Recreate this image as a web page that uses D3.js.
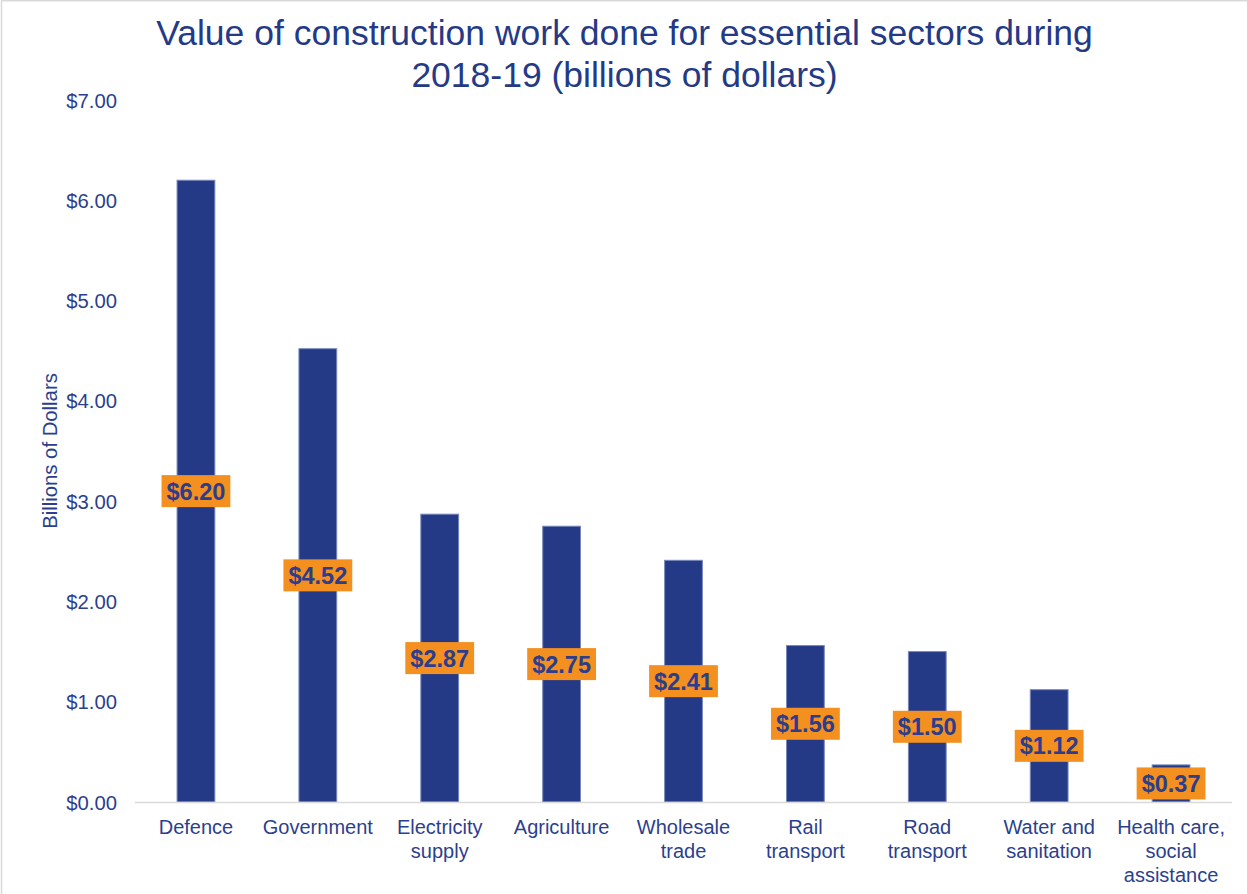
<!DOCTYPE html>
<html>
<head>
<meta charset="utf-8">
<script src="https://cdn.jsdelivr.net/npm/d3@7"></script>
<style>
  html, body { margin: 0; padding: 0; background: #fff; }
  svg { display: block; font-family: "Liberation Sans", Arial, sans-serif; }
</style>
</head>
<body>
<svg id="chart" width="1247" height="894"></svg>
<script>
// Sector names (line breaks mark how each axis label wraps)
const categories = [
  "Defence",
  "Government",
  "Electricity\nsupply",
  "Agriculture",
  "Wholesale\ntrade",
  "Rail\ntransport",
  "Road\ntransport",
  "Water and\nsanitation",
  "Health care,\nsocial\nassistance"
];
// Value of work done, billions of dollars
const values = [6.20, 4.52, 2.87, 2.75, 2.41, 1.56, 1.50, 1.12, 0.37];
const yTicks = [0, 1, 2, 3, 4, 5, 6, 7];
const titleLines = [
  "Value of construction work done for essential sectors during",
  "2018-19 (billions of dollars)"
];
const yAxisTitle = "Billions of Dollars";

const W = 1247, H = 894;
const margin = { top: 100, right: 15, bottom: 92, left: 135 };
const textColor = "#2C3F8E";
const barColor = "#253A87";
const labelBg = "#F3901F";

const svg = d3.select("#chart");

// Chart frame edge
svg.append("path")
  .attr("d", `M1.5,${H} V0.75 H${W}`)
  .attr("fill", "none")
  .attr("stroke", "#D9D9D9")
  .attr("stroke-width", 1.5);

const x = d3.scaleBand()
  .domain(categories)
  .range([margin.left, W - margin.right])
  .paddingInner(0.69)
  .paddingOuter(0.345);

const y = d3.scaleLinear()
  .domain([0, 7])
  .range([H - margin.bottom, margin.top]);

// Title
svg.append("text")
  .attr("x", 624.5)
  .attr("y", 45)
  .attr("text-anchor", "middle")
  .attr("fill", barColor)
  .style("font-size", "35.5px")
  .selectAll("tspan")
  .data(titleLines)
  .join("tspan")
  .attr("x", 624.5)
  .attr("dy", (d, i) => i === 0 ? 0 : 42)
  .text(d => d);

// Y axis (labels only)
const yAxis = d3.axisLeft(y)
  .tickValues(yTicks)
  .tickSize(0)
  .tickPadding(0)
  .tickFormat(d => "$" + d3.format(".2f")(d));

const yg = svg.append("g")
  .attr("transform", `translate(117,0)`)
  .call(yAxis);
yg.select(".domain").remove();
yg.selectAll("text")
  .attr("fill", textColor)
  .attr("dy", "0.35em")
  .style("font-size", "20.3px")
  .style("font-family", "'Liberation Sans', Arial, sans-serif");

// Y axis title
svg.append("text")
  .attr("transform", `translate(57,451) rotate(-90)`)
  .attr("text-anchor", "middle")
  .attr("fill", textColor)
  .style("font-size", "20.3px")
  .text(yAxisTitle);

// Bars
svg.append("g")
  .selectAll("rect")
  .data(values)
  .join("rect")
  .attr("x", (d, i) => x(categories[i]))
  .attr("width", x.bandwidth())
  .attr("y", d => y(d))
  .attr("height", d => y(0) - y(d))
  .attr("fill", barColor)
  .attr("stroke", "#7888BC")
  .attr("stroke-width", 1);

// Baseline
svg.append("line")
  .attr("x1", margin.left)
  .attr("x2", W - margin.right)
  .attr("y1", y(0) + 0.5)
  .attr("y2", y(0) + 0.5)
  .attr("stroke", "#D9D9D9")
  .attr("stroke-width", 1.5);

// X axis category labels
const xg = svg.append("g");
categories.forEach((c, i) => {
  const cx = x(c) + x.bandwidth() / 2;
  const t = xg.append("text")
    .attr("x", cx)
    .attr("y", y(0) + 32)
    .attr("text-anchor", "middle")
    .attr("fill", textColor)
    .style("font-size", "20px");
  c.split("\n").forEach((line, j) => {
    t.append("tspan")
      .attr("x", cx)
      .attr("dy", j === 0 ? 0 : 24)
      .text(line);
  });
});

// Value labels centred on each bar
const lg = svg.append("g");
values.forEach((v, i) => {
  const cx = x(categories[i]) + x.bandwidth() / 2;
  const cy = y(v / 2);
  const g = lg.append("g");
  const txt = g.append("text")
    .attr("x", cx)
    .attr("y", cy)
    .attr("dy", "0.36em")
    .attr("text-anchor", "middle")
    .attr("fill", "#2B3D8C")
    .style("font-size", "23.5px")
    .style("font-weight", "bold")
    .text("$" + d3.format(".2f")(v));
  const bw = txt.node().getComputedTextLength() + 10;
  g.insert("rect", "text")
    .attr("x", cx - bw / 2)
    .attr("y", cy - 16)
    .attr("width", bw)
    .attr("height", 32)
    .attr("fill", labelBg);
});
</script>
</body>
</html>
